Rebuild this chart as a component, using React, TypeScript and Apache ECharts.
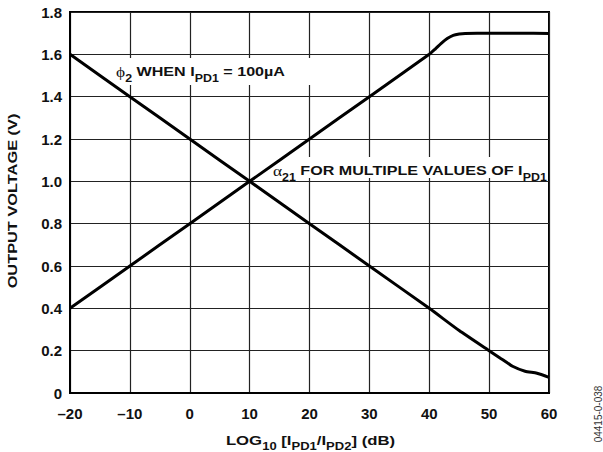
import React, { useEffect, useRef } from "react";
import * as echarts from "echarts";

const xTicksMin = -20;
const xTicksMax = 60;
const yTicksMin = 0;
const yTicksMax = 1.8;

// alpha21 for multiple values of IPD1 (rising curve): [dB, V]
const alphaX = [-20, -10, 0, 10, 20, 30, 40, 41, 42, 43, 44, 45, 46, 48, 50, 55, 60];
const alphaY = [0.4, 0.6, 0.8, 1.0, 1.2, 1.4, 1.6, 1.625, 1.652, 1.675, 1.69, 1.696, 1.699, 1.7, 1.7, 1.7, 1.699];

// phi2 when IPD1 = 100uA (falling curve): [dB, V]
const phiX = [-20, -10, 0, 10, 20, 30, 40, 45, 50, 52, 54, 56, 58, 60];
const phiY = [1.6, 1.4, 1.2, 1.0, 0.8, 0.6, 0.4, 0.295, 0.2, 0.162, 0.125, 0.103, 0.093, 0.074];

const FONT = "'Liberation Sans', Arial, Helvetica, sans-serif";
const SERIF = "'Liberation Serif', 'DejaVu Serif', serif";

export default function App() {
  const ref = useRef<HTMLDivElement>(null);
  useEffect(() => {
    if (!ref.current) return;
    const chart = echarts.init(ref.current, undefined, { renderer: "svg" });
    const richLabel = {
      m: { fontSize: 13, fontWeight: "bold", fontFamily: FONT, fill: "#111", color: "#111", lineHeight: 15, verticalAlign: "top" },
      g: { fontSize: 14, fontWeight: "normal", fontFamily: SERIF, fill: "#111", color: "#111", lineHeight: 15, verticalAlign: "top" },
      s: { fontSize: 10, fontWeight: "bold", fontFamily: FONT, fill: "#111", color: "#111", lineHeight: 10, padding: [8, 0, 0, 0], verticalAlign: "top" },
    };
    const richAxis = {
      m: { fontSize: 13.5, fontWeight: "bold", fontFamily: FONT, fill: "#111", color: "#111", lineHeight: 16, verticalAlign: "top" },
      s: { fontSize: 10.5, fontWeight: "bold", fontFamily: FONT, fill: "#111", color: "#111", lineHeight: 10, padding: [7, 0, 0, 0], verticalAlign: "top" },
    };
    chart.setOption({
      animation: false,
      backgroundColor: "#fff",
      grid: { left: 70, right: 54, top: 12, bottom: 59, show: true, borderColor: "#000", borderWidth: 2, backgroundColor: "transparent" },
      xAxis: {
        type: "value",
        min: xTicksMin,
        max: xTicksMax,
        interval: 10,
        axisLine: { show: true, onZero: false, lineStyle: { color: "#000", width: 2 } },
        axisTick: { show: false },
        splitLine: { show: true, lineStyle: { color: "#222", width: 1.2 } },
        axisLabel: {
          margin: 13,
          fontSize: 15,
          fontWeight: "bold",
          fontFamily: FONT,
          color: "#111",
          formatter: (v: number) => (v < 0 ? "\u2013" + Math.abs(v) : String(v)),
        },
      },
      yAxis: {
        type: "value",
        min: yTicksMin,
        max: yTicksMax,
        interval: 0.2,
        axisLine: { show: true, onZero: false, lineStyle: { color: "#000", width: 2 } },
        axisTick: { show: false },
        splitLine: { show: true, lineStyle: { color: "#222", width: 1.2 } },
        axisLabel: {
          margin: 8,
          fontSize: 15,
          fontWeight: "bold",
          fontFamily: FONT,
          color: "#111",
          formatter: (v: number) => (v === 0 ? "0" : v.toFixed(1)),
        },
      },
      series: [
        {
          type: "line",
          data: alphaX.map((x, i) => [x, alphaY[i]]),
          showSymbol: false,
          smooth: 0.2,
          lineStyle: { color: "#000", width: 3 },
          z: 3,
        },
        {
          type: "line",
          data: phiX.map((x, i) => [x, phiY[i]]),
          showSymbol: false,
          smooth: 0.2,
          lineStyle: { color: "#000", width: 3 },
          z: 3,
        },
      ],
      graphic: [
        { type: "rect", z: 1, shape: { x: 113, y: 58, width: 202, height: 27 }, style: { fill: "#fff" } },
        {
          type: "text",
          x: 116,
          y: 72.5,
          scaleX: 1.24,
          z: 4,
          style: {
            text: "{g|\u03d5}{s|2}{m| WHEN I}{s|PD1}{m| = 100\u00b5A}",
            rich: richLabel,
            verticalAlign: "middle",
            align: "left",
          },
        },
        { type: "rect", z: 1, shape: { x: 271, y: 157, width: 276, height: 21 }, style: { fill: "#fff" } },
        {
          type: "text",
          x: 273,
          y: 171.5,
          scaleX: 1.24,
          z: 4,
          style: {
            text: "{g|\u03b1}{s|21}{m| FOR MULTIPLE VALUES OF I}{s|PD1}",
            rich: richLabel,
            verticalAlign: "middle",
            align: "left",
          },
        },
        {
          type: "text",
          x: 310.5,
          y: 441.5,
          scaleX: 1.24,
          z: 4,
          style: {
            text: "{m|LOG}{s|10}{m| [I}{s|PD1}{m|/I}{s|PD2}{m|] (dB)}",
            rich: richAxis,
            verticalAlign: "middle",
            align: "center",
          },
        },
        {
          type: "text",
          x: 12.5,
          y: 201,
          rotation: Math.PI / 2,
          scaleX: 1.26,
          z: 4,
          style: {
            text: "OUTPUT VOLTAGE (V)",
            fontSize: 13,
            fontWeight: "bold",
            fontFamily: FONT,
            fill: "#111",
            align: "center",
            verticalAlign: "middle",
          },
        },
        {
          type: "text",
          x: 598,
          y: 414,
          rotation: Math.PI / 2,
          z: 4,
          style: {
            text: "04415-0-038",
            fontSize: 10,
            fontFamily: FONT,
            fill: "#333",
            align: "center",
            verticalAlign: "middle",
          },
        },
      ],
    });
    return () => chart.dispose();
  }, []);
  return <div ref={ref} style={{ position: "fixed", left: 0, top: 0, width: 603, height: 452 }} />;
}
